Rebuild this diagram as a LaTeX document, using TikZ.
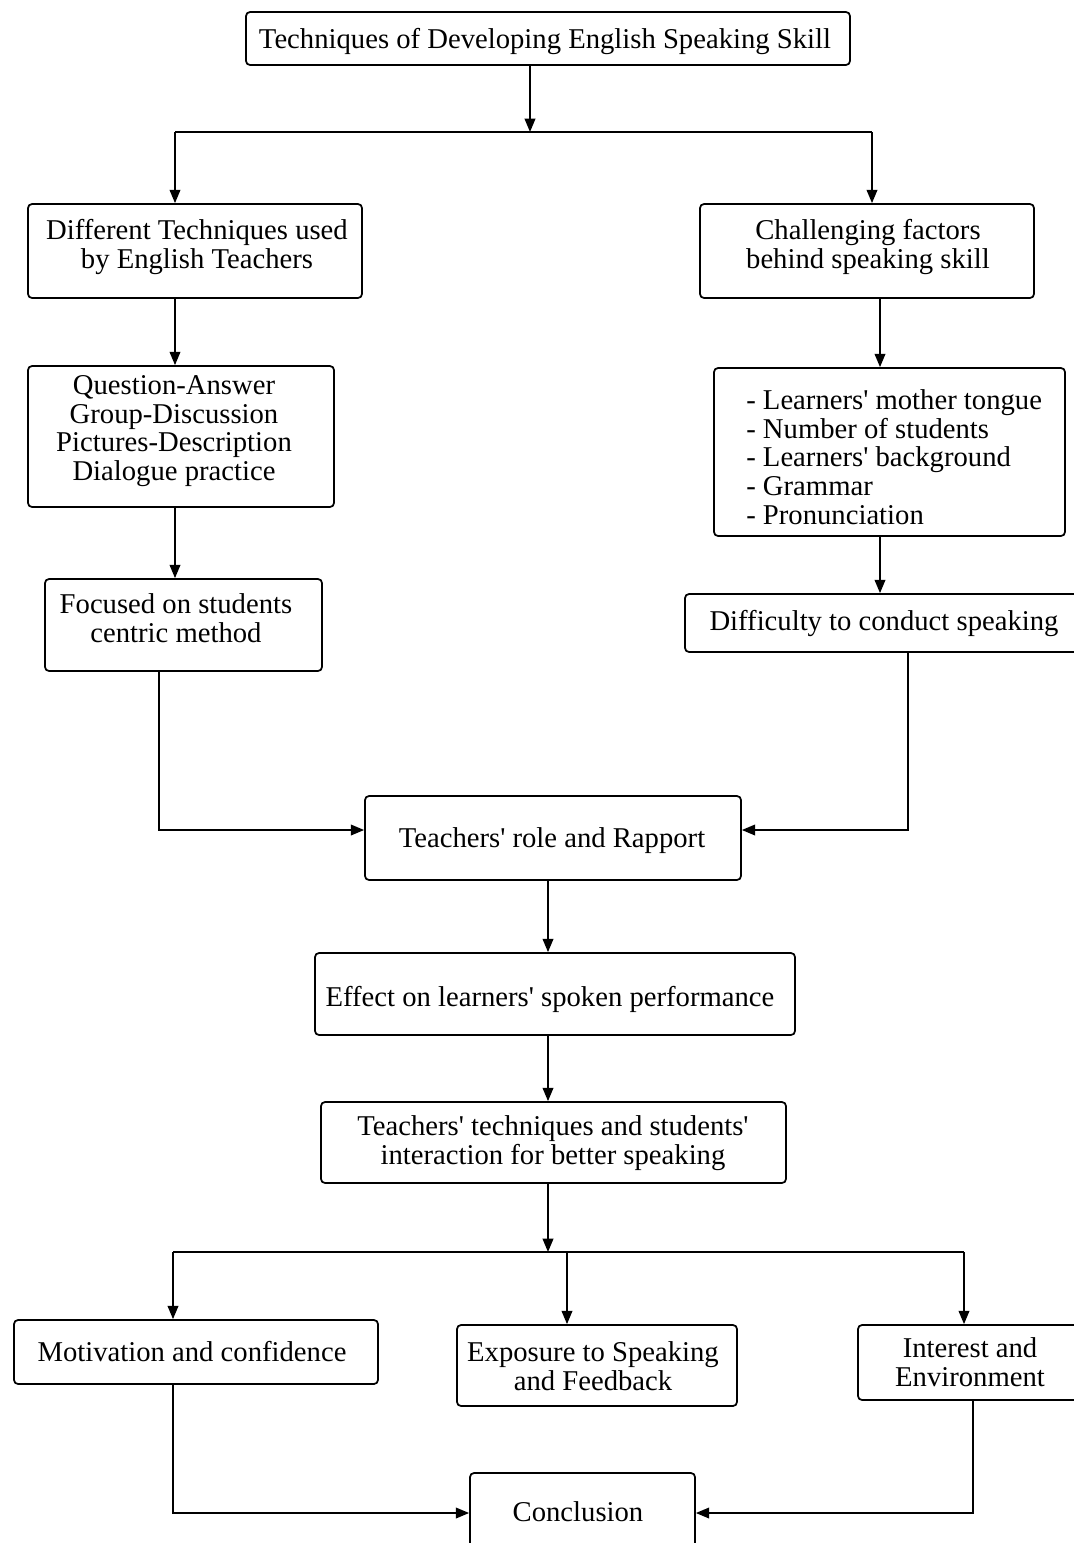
\documentclass[tikz,border=0pt]{standalone}
\usepackage{fontspec}
\setmainfont{Liberation Serif}[Ligatures=TeXOff]
\usetikzlibrary{arrows.meta}
\newcommand\mybox[5]{\node[box, minimum width={(#4-#2)*0.75pt}, minimum height={(#5-#3)*0.75pt}] (#1) at ({(#2+#4)/2},{(#3+#5)/2}) {};}
\begin{document}
\begin{tikzpicture}[x=0.75pt,y=-0.75pt,
 box/.style={draw, line width=1.3pt, rounded corners=3pt, inner sep=0pt},
 txt/.style={font=\fontsize{21.5}{21.5}\selectfont, align=center, inner sep=0pt},
 conn/.style={line width=1.3pt},
 arr/.style={line width=1.3pt, -{Triangle[length=10pt,width=8pt]}}]
\clip (0,0) rectangle (1074,1543);
\fill[white] (0,0) rectangle (1074,1543);

% boxes
\mybox{top}{246}{12}{850}{65}
\mybox{diff}{28}{204}{362}{298}
\mybox{chal}{700}{204}{1034}{298}
\mybox{qa}{28}{366}{334}{507}
\mybox{list}{714}{368}{1065}{536}
\mybox{dfc}{685}{594}{1090}{652}
\mybox{foc}{45}{579}{322}{671}
\mybox{role}{365}{796}{741}{880}
\mybox{eff}{315}{953}{795}{1035}
\mybox{tech}{321}{1102}{786}{1183}
\mybox{mot}{14}{1320}{378}{1384}
\mybox{exp}{457}{1325}{737}{1406}
\mybox{int}{858}{1325}{1090}{1400}
\mybox{con}{470}{1473}{695}{1560}

% texts
\node[txt] (ttop) at (545,41) {Techniques of Developing English Speaking Skill};
\node[txt] (tdiff) at (197,247) {Different Techniques used\\by English Teachers};
\node[txt] (tchal) at (868,247) {Challenging factors\\behind speaking skill};
\node[txt] (tqa) at (174,431) {Question-Answer\\Group-Discussion\\Pictures-Description\\Dialogue practice};
\node[txt, align=left, anchor=west] (tlist) at (746,457) {- Learners' mother tongue\\- Number of students\\- Learners' background\\- Grammar\\- Pronunciation};
\node[txt] (tdfc) at (884,623) {Difficulty to conduct speaking};
\node[txt] (tfoc) at (176,618) {Focused on students\\centric method};
\node[txt] (trole) at (552,841) {Teachers' role and Rapport};
\node[txt] (teff) at (550,999) {Effect on learners' spoken performance};
\node[txt] (ttech) at (553,1143) {Teachers' techniques and students'\\interaction for better speaking};
\node[txt] (tmot) at (192,1352) {Motivation and confidence};
\node[txt] (texp) at (593,1366) {Exposure to Speaking\\and Feedback};
\node[txt] (tint) at (970,1362) {Interest and\\Environment};
\node[txt] (tcon) at (578,1512) {Conclusion};

% connectors, top part
\coordinate (b1) at (530,132);
\coordinate (b1l) at (175,132);
\coordinate (b1r) at (872,132);
\draw[arr] (top.south -| b1) -- (b1);
\draw[conn] (b1l) -- (b1r);
\draw[arr] (b1l) -- (b1l |- diff.north);
\draw[arr] (b1r) -- (b1r |- chal.north);
\coordinate (xl) at (175,0);
\coordinate (xr) at (880,0);
\draw[arr] (diff.south -| xl) -- (qa.north -| xl);
\draw[arr] (qa.south -| xl) -- (foc.north -| xl);
\draw[arr] (chal.south -| xr) -- (list.north -| xr);
\draw[arr] (list.south -| xr) -- (dfc.north -| xr);
% into role
\coordinate (yc) at (0,830);
\coordinate (xf) at (159,0);
\coordinate (xd) at (908,0);
\draw[arr] (foc.south -| xf) |- (role.west |- yc);
\draw[arr] (dfc.south -| xd) |- (role.east |- yc);
% middle chain
\coordinate (xm) at (548,0);
\draw[arr] (role.south -| xm) -- (eff.north -| xm);
\draw[arr] (eff.south -| xm) -- (tech.north -| xm);
\coordinate (b2) at (548,1252);
\coordinate (b2l) at (173,1252);
\coordinate (b2m) at (567,1252);
\coordinate (b2r) at (964,1252);
\draw[arr] (tech.south -| b2) -- (b2);
\draw[conn] (b2l) -- (b2r);
\draw[arr] (b2l) -- (b2l |- mot.north);
\draw[arr] (b2m) -- (b2m |- exp.north);
\draw[arr] (b2r) -- (b2r |- int.north);
% into conclusion
\coordinate (yb) at (0,1513);
\coordinate (xmo) at (173,0);
\coordinate (xin) at (973,0);
\draw[arr] (mot.south -| xmo) |- (con.west |- yb);
\draw[arr] (int.south -| xin) |- (con.east |- yb);
\end{tikzpicture}
\end{document}
